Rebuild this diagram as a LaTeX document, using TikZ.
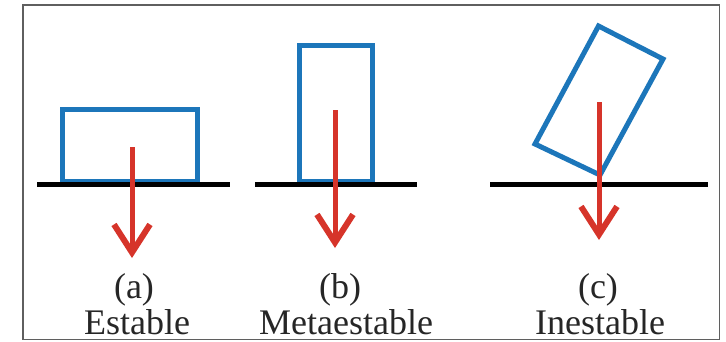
\documentclass[tikz,border=0pt]{standalone}
\usepackage{fontspec}
\setmainfont{Liberation Serif}
\usetikzlibrary{arrows.meta}
\definecolor{boxblue}{RGB}{28,118,186}
\definecolor{arrowred}{RGB}{214,52,42}
\definecolor{framegray}{RGB}{95,95,95}
\tikzset{
  block/.style={draw=boxblue, line width=5pt, line join=miter},
  ground/.style={draw=black, line width=4.5pt},
  weight/.style={draw=arrowred, line width=5pt, -{Straight Barb[length=28pt, width=36pt, line width=6pt]}},
  lbl/.style={font=\fontsize{36}{40}\selectfont, text=black!85, anchor=base, inner sep=0pt}
}
\begin{document}
\begin{tikzpicture}[x=1pt, y=-1pt]
\useasboundingbox (0,0) rectangle (726,341);
\draw[framegray, line width=1.5pt] (23,5) rectangle (719.5,339.5);
% (a)
\draw[block] (62.5,109.5) rectangle (197.5,181);
\draw[ground] (37,184.5) -- (230,184.5);
\coordinate (a1) at (132,147);
\coordinate (a2) at (132,258);
\draw[weight] (a1) -- (a2);
\node[lbl] (la) at (134,298) {(a)};
\node[lbl] (na) at (137,334) {Estable};
% (b)
\draw[block] (299.5,45.5) rectangle (372.5,181);
\draw[ground] (255,184.5) -- (417,184.5);
\coordinate (b1) at (335,110);
\coordinate (b2) at (335,248);
\draw[weight] (b1) -- (b2);
\node[lbl] (lb) at (340,298) {(b)};
\node[lbl] (nb) at (346,334) {Metaestable};
% (c)
\draw[block] (600,175) -- (535,144) -- (598.5,26) -- (663,59) -- cycle;
\draw[ground] (490,184.5) -- (708,184.5);
\coordinate (c1) at (599,102);
\coordinate (c2) at (599,240);
\draw[weight] (c1) -- (c2);
\node[lbl] (lc) at (598,298) {(c)};
\node[lbl] (nc) at (600,334) {Inestable};
\end{tikzpicture}
\end{document}
